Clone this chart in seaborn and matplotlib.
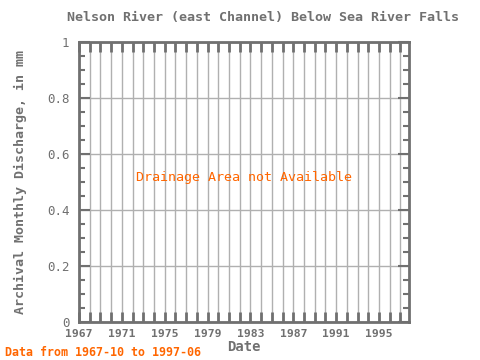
import matplotlib
matplotlib.use("Agg")
import matplotlib.pyplot as plt
import seaborn as sns
import numpy as np

title = "Nelson River (east Channel) Below Sea River Falls"
xlabel = "Date"
ylabel = "Archival Monthly Discharge, in mm"
note = "Drainage Area not Available"
footer = "Data from 1967-10 to 1997-06"
xtick_years = [1967, 1971, 1975, 1979, 1983, 1987, 1991, 1995]
yticks = [0, 0.2, 0.4, 0.6, 0.8, 1]
ytick_labels = ["0", "0.2", "0.4", "0.6", "0.8", "1"]

sns.set_theme(style="white")
plt.rcParams['font.family'] = ['DejaVu Sans Mono']

gray = "#707070"
fig = plt.figure(figsize=(4.8, 3.6), dpi=100)
ax = fig.add_axes([79/480, 1-322/360, 330/480, 280/360])
ax.set_xlim(1967, 1997.8)
ax.set_ylim(0, 1)
ax.set_xticks(xtick_years)
ax.set_xticklabels([str(y) for y in xtick_years], fontsize=8.2, color=gray, fontweight="bold")
ax.set_xticks(np.arange(1967, 1998), minor=True)
ax.set_yticks(yticks)
ax.set_yticklabels(ytick_labels, fontsize=9, color=gray)
ax.set_yticks(np.arange(0, 1.001, 0.05), minor=True)
ax.grid(True, which="major", axis="y", color="#b0b0b0", lw=1)
ax.grid(True, which="minor", axis="x", color="#b0b0b0", lw=1)
ax.grid(True, which="major", axis="x", color="#b0b0b0", lw=1)
ax.tick_params(which="both", direction="in", top=True, right=True, bottom=True, left=True, color=gray)
ax.tick_params(which="major", axis="x", length=7, width=2, pad=5)
ax.tick_params(which="minor", axis="x", length=7, width=2)
ax.tick_params(which="major", axis="y", length=8, width=1.5, pad=7)
ax.tick_params(which="minor", axis="y", length=4, width=1.5)
for s in ax.spines.values():
    s.set_color(gray)
    s.set_linewidth(2)
ax.set_xlabel(xlabel, fontsize=10, color=gray, fontweight="bold", labelpad=1)
ax.set_ylabel(ylabel, fontsize=9.6, color=gray, fontweight="bold", labelpad=14)
fig.text(263/480, 1-18/360, title, ha="center", va="center", fontsize=9.6, color=gray, fontweight="bold")
ax.text(0.5, 0.515, note, transform=ax.transAxes, ha="center", va="center", fontsize=9.6, color="#ff6600")
fig.text(5/480, 1-352/360, footer, ha="left", va="center", fontsize=8.4, color="#ff6600", fontweight="bold")
fig.savefig("out.png", dpi=100)
